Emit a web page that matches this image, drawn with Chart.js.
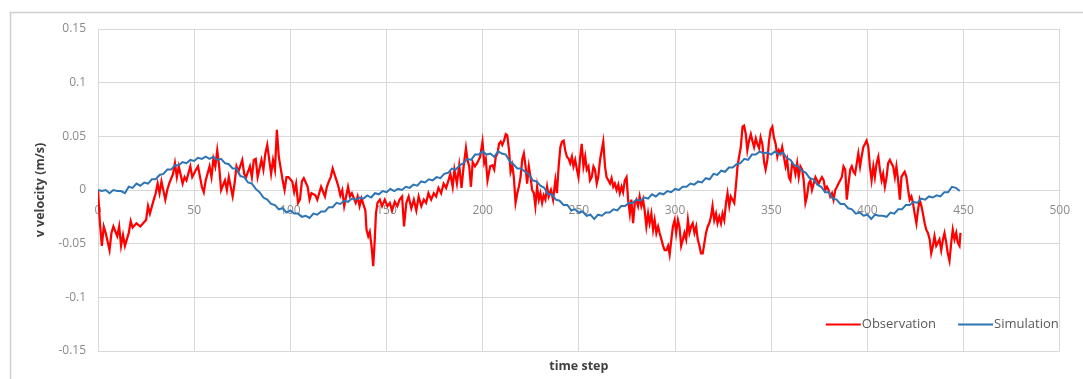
<!DOCTYPE html>
<html>
<head>
<meta charset="utf-8">
<title>v velocity – observation vs simulation</title>
<script src="https://cdn.jsdelivr.net/npm/chart.js@4.4.1/dist/chart.umd.min.js"></script>
<style>
  html, body { margin: 0; padding: 0; background: #ffffff; }
  canvas { display: block; }
</style>
</head>
<body>
<canvas id="chart" width="1083" height="379"></canvas>
<script>
// ---- data -------------------------------------------------------------
const seriesNames = ['Observation', 'Simulation'];
const seriesColors = ['#ff0000', '#2e75b6'];

const xTickValues = [0, 50, 100, 150, 200, 250, 300, 350, 400, 450, 500];
const yTickValues = [-0.15, -0.1, -0.05, 0, 0.05, 0.1, 0.15];

const xAxisTitle = 'time step';
const yAxisTitle = 'v velocity (m/s)';

// measured v velocity: [time step, m/s]
const observation = [
  [0,0.000],[1,-0.031],[2,-0.052],[3,-0.034],[4,-0.040],[6,-0.056],[7,-0.040],[8,-0.034],[10,-0.043],[11,-0.034],
  [12,-0.052],[13,-0.042],[14,-0.052],[16,-0.040],[17,-0.029],[18,-0.035],[20,-0.031],[22,-0.034],[23,-0.032],[25,-0.028],
  [26,-0.015],[27,-0.022],[29,-0.009],[30,-0.003],[31,0.006],[32,-0.003],[33,0.008],[35,-0.009],[36,0.000],[37,0.006],
  [39,0.015],[40,0.025],[41,0.012],[42,0.022],[44,0.006],[45,0.012],[46,0.009],[48,0.022],[49,0.012],[51,0.019],
  [52,0.022],[54,0.003],[55,-0.002],[56,0.009],[58,0.022],[59,0.012],[60,0.029],[61,0.022],[62,0.037],[63,0.022],
  [64,0.000],[66,0.009],[67,0.000],[68,0.012],[70,-0.006],[71,0.006],[72,0.022],[73,0.017],[75,0.028],[76,0.015],
  [77,0.012],[79,0.022],[80,0.012],[81,0.028],[82,0.029],[83,0.012],[85,0.028],[86,0.019],[87,0.034],[88,0.042],
  [90,0.015],[91,0.028],[92,0.019],[93,0.056],[94,0.031],[96,0.009],[97,0.000],[98,0.012],[99,0.012],[101,0.008],
  [102,-0.002],[103,0.006],[104,-0.012],[105,-0.009],[106,0.008],[107,0.011],[109,0.003],[110,-0.009],[111,-0.003],[113,-0.005],
  [114,-0.009],[115,-0.003],[116,0.003],[118,-0.006],[119,0.003],[120,0.008],[121,0.012],[122,0.020],[124,0.009],[125,0.003],
  [126,-0.005],[127,0.000],[128,-0.015],[130,0.003],[131,-0.006],[132,-0.003],[134,-0.012],[135,-0.006],[136,-0.015],[137,-0.008],
  [139,-0.019],[139.6,-0.037],[140.5,-0.043],[141.3,-0.039],[142.2,-0.052],[143.1,-0.071],[143.9,-0.046],[144.5,-0.022],[145.3,-0.012],[146.5,-0.009],
  [147.7,-0.015],[149.1,-0.009],[150.5,-0.015],[151.7,-0.012],[152.9,-0.019],[154.3,-0.011],[155.6,-0.015],[156.8,-0.009],[158.1,-0.006],[159.1,-0.034],
  [160.3,-0.012],[161.5,-0.006],[162.9,-0.017],[164.2,-0.009],[165.5,-0.019],[166.7,-0.006],[168.1,-0.015],[169.4,-0.009],[170.6,-0.012],[171.8,-0.003],
  [173.2,-0.009],[174.6,-0.003],[175.8,-0.006],[177,0.002],[178.4,-0.003],[179.7,0.006],[181,0.002],[182.2,0.009],[183.2,0.015],[184.4,0.003],
  [185.3,0.019],[186.6,0.006],[187.8,0.023],[189,0.002],[190.1,0.022],[191.3,0.039],[192.1,0.028],[193,0.022],[193.9,0.003],[194.8,0.026],
  [196,0.022],[197.1,0.025],[198.7,0.031],[199.9,0.045],[200.8,0.025],[201.6,0.029],[202.5,0.009],[203.9,0.022],[205.1,0.023],[206,0.019],
  [206.8,0.031],[207.7,0.034],[208.5,0.043],[209.4,0.045],[210.2,0.042],[211.1,0.046],[212,0.052],[212.8,0.051],[213.7,0.037],[214.5,0.017],
  [215.4,0.023],[216.2,0.012],[217.1,-0.012],[218,-0.003],[218.8,0.003],[219.7,0.012],[220.6,0.029],[221.4,0.034],[222.3,0.022],[223.1,0.006],
  [224,0.022],[224.9,0.012],[225.7,0.000],[226.6,-0.003],[227.4,-0.015],[228.3,0.003],[229.2,-0.009],[230,-0.003],[230.9,-0.012],[231.7,-0.005],
  [232.6,-0.009],[233.5,0.003],[234.3,-0.006],[235.5,0.000],[236.6,-0.009],[237.8,0.009],[238.6,-0.003],[239.5,0.022],[240.4,0.040],[241.2,0.045],
  [242.1,0.046],[242.9,0.037],[243.8,0.031],[244.7,0.029],[245.5,0.025],[246.4,0.031],[247.2,0.022],[248.1,0.028],[249,0.019],[249.8,0.012],
  [250.7,0.031],[251.5,0.043],[252.4,0.022],[253.3,0.031],[254.1,0.019],[255,0.022],[255.8,0.009],[256.7,0.012],[257.6,0.022],[258.4,0.019],
  [259.3,0.006],[260.1,0.012],[261,0.028],[261.9,0.037],[262.7,0.045],[263.6,0.022],[264.4,0.012],[265.3,0.009],[266.2,0.006],[267,0.011],
  [267.9,0.003],[268.7,0.006],[269.6,0.000],[270.5,0.005],[271.3,-0.003],[272.2,0.003],[273,-0.002],[273.9,0.009],[274.8,0.012],[275.6,-0.009],
  [276.5,-0.022],[277.3,-0.009],[278.2,-0.031],[279.1,-0.012],[279.9,-0.009],[280.8,-0.015],[281.6,-0.006],[282.5,-0.015],[283.4,-0.009],[284.2,-0.019],
  [285.1,-0.034],[286,-0.022],[286.8,-0.031],[287.7,-0.022],[288.6,-0.037],[289.4,-0.028],[290.3,-0.040],[291.2,-0.034],[292,-0.040],[292.9,-0.046],
  [293.8,-0.052],[294.6,-0.056],[295.5,-0.056],[296.4,-0.052],[297.2,-0.060],[298.1,-0.046],[298.9,-0.034],[299.8,-0.028],[300.6,-0.040],[301.5,-0.028],
  [302.3,-0.034],[303.2,-0.052],[304.1,-0.046],[304.9,-0.040],[305.8,-0.046],[306.7,-0.028],[307.5,-0.040],[308.4,-0.034],[309.2,-0.031],[310.1,-0.040],
  [311,-0.034],[311.8,-0.046],[312.7,-0.052],[313.5,-0.059],[314.4,-0.059],[315.3,-0.049],[316.1,-0.040],[317,-0.034],[317.8,-0.031],[318.7,-0.025],
  [319.5,-0.015],[320.4,-0.028],[321.3,-0.022],[322.1,-0.031],[323,-0.025],[323.9,-0.031],[324.7,-0.022],[325.6,-0.028],[326.5,-0.012],[327.3,-0.003],
  [328.2,-0.015],[329,-0.006],[329.9,-0.009],[330.8,-0.012],[331.6,0.003],[332.5,0.022],[333.3,0.031],[334.2,0.040],[335.1,0.059],[335.9,0.060],
  [336.8,0.052],[337.6,0.037],[338.5,0.046],[339.4,0.052],[340.2,0.046],[341.1,0.040],[342,0.048],[342.8,0.043],[343.7,0.039],[344.5,0.049],
  [345.4,0.043],[346.3,0.026],[347.1,0.019],[348,0.028],[348.9,0.046],[349.7,0.056],[350.6,0.059],[351.4,0.049],[352.3,0.043],[353.2,0.031],
  [354,0.037],[354.9,0.034],[355.7,0.040],[356.6,0.031],[357.5,0.022],[358.3,0.028],[359.2,0.012],[360,0.009],[360.9,0.025],[361.8,0.022],
  [362.6,0.015],[363.5,0.025],[364.3,0.012],[365.2,0.022],[366.1,0.019],[366.9,0.009],[367.8,-0.012],[368.6,-0.006],[369.5,0.006],[370.4,0.009],
  [371.2,0.000],[372.1,0.006],[373,0.012],[373.8,0.009],[374.7,0.006],[375.5,0.009],[376.4,0.012],[377.3,0.009],[378.1,0.000],[379,0.003],
  [379.8,0.000],[380.7,-0.006],[381.6,-0.003],[382.4,-0.009],[383.3,0.000],[384.2,0.003],[385,0.006],[385.9,0.009],[386.7,0.012],[387.6,0.022],
  [388.5,0.019],[389.3,-0.009],[390.2,0.006],[391.1,0.019],[391.9,0.022],[392.8,0.017],[393.6,0.015],[394.5,0.025],[395.3,0.034],[396.2,0.022],
  [397,0.031],[397.9,0.040],[398.8,0.043],[399.6,0.046],[400.5,0.040],[401.3,0.022],[402.2,0.009],[403.1,0.022],[403.9,0.012],[404.8,0.025],
  [405.7,0.031],[406.5,0.019],[407.4,0.009],[408.2,0.015],[409.1,0.003],[410,0.012],[410.8,0.025],[411.7,0.028],[412.5,0.025],[413.4,0.022],
  [414.3,0.012],[415.1,0.022],[416,0.009],[416.9,-0.009],[417.7,0.012],[418.6,0.015],[419.4,0.017],[420.3,0.012],[421.2,0.000],[422,-0.009],
  [422.9,-0.006],[423.7,-0.012],[424.6,-0.022],[425.5,-0.031],[426.3,-0.019],[427.2,-0.009],[428.1,-0.015],[428.9,-0.022],[429.8,-0.031],[430.6,-0.037],
  [431.5,-0.040],[432.4,-0.046],[433.2,-0.059],[434.1,-0.052],[434.9,-0.043],[435.8,-0.052],[436.7,-0.049],[437.5,-0.046],[438.4,-0.056],[439.3,-0.046],
  [440.1,-0.040],[441,-0.049],[441.8,-0.059],[442.7,-0.066],[443.6,-0.049],[444.4,-0.037],[445.3,-0.046],[446.2,-0.040],[447,-0.049],[447.9,-0.052],
  [448.4,-0.040]
];

// simulated v velocity, one value every SIM_STEP time steps starting at 0
const SIM_STEP = 2;
const simulation = [
  0.000,-0.001,0.000,-0.003,0.000,-0.001,-0.001,-0.003,0.003,0.002,
  0.006,0.004,0.007,0.006,0.010,0.010,0.014,0.015,0.019,0.019,
  0.023,0.023,0.026,0.025,0.028,0.027,0.030,0.029,0.031,0.029,
  0.031,0.028,0.029,0.025,0.024,0.020,0.020,0.013,0.012,0.007,
  0.006,0.001,-0.002,-0.007,-0.009,-0.013,-0.014,-0.018,-0.017,-0.021,
  -0.019,-0.022,-0.022,-0.025,-0.024,-0.026,-0.022,-0.023,-0.020,-0.020,
  -0.016,-0.016,-0.012,-0.013,-0.010,-0.011,-0.008,-0.009,-0.007,-0.008,
  -0.005,-0.007,-0.003,-0.004,-0.001,-0.002,0.001,-0.001,0.001,0.000,
  0.003,0.002,0.005,0.004,0.008,0.007,0.010,0.009,0.012,0.011,
  0.015,0.016,0.020,0.019,0.023,0.025,0.029,0.028,0.033,0.033,
  0.036,0.033,0.034,0.031,0.036,0.034,0.033,0.027,0.024,0.020,
  0.020,0.017,0.015,0.009,0.008,0.004,0.002,-0.004,-0.004,-0.009,
  -0.010,-0.014,-0.014,-0.019,-0.018,-0.021,-0.020,-0.024,-0.023,-0.027,
  -0.023,-0.024,-0.021,-0.021,-0.018,-0.019,-0.015,-0.015,-0.012,-0.012,
  -0.009,-0.010,-0.007,-0.008,-0.004,-0.006,-0.003,-0.004,-0.001,-0.002,
  0.001,0.000,0.003,0.003,0.006,0.005,0.008,0.007,0.011,0.010,
  0.015,0.014,0.018,0.017,0.021,0.021,0.024,0.025,0.029,0.028,
  0.033,0.033,0.036,0.034,0.035,0.033,0.036,0.033,0.035,0.030,
  0.028,0.023,0.022,0.018,0.016,0.011,0.010,0.005,0.003,-0.002,
  -0.002,-0.008,-0.009,-0.013,-0.013,-0.017,-0.018,-0.022,-0.021,-0.024,
  -0.023,-0.027,-0.023,-0.024,-0.024,-0.025,-0.021,-0.022,-0.018,-0.018,
  -0.014,-0.014,-0.011,-0.012,-0.008,-0.009,-0.006,-0.007,-0.005,-0.006,
  -0.002,-0.002,0.003,0.002,-0.001
];

// ---- styling ----------------------------------------------------------
const FONT = '"Open Sans", "Liberation Sans", sans-serif';
const GRID = '#d9d9d9';
const TICK_COLOR = '#8a8a8a';
const TITLE_COLOR = '#404040';
const LEGEND_COLOR = '#595959';

// white page with a thin frame round the chart
const framePlugin = {
  id: 'frame',
  beforeDraw(chart) {
    const { ctx, width, height } = chart;
    ctx.save();
    ctx.fillStyle = '#ffffff';
    ctx.fillRect(0, 0, width, height);
    ctx.strokeStyle = '#cfcfcf';
    ctx.lineWidth = 1.5;
    ctx.beginPath();
    ctx.moveTo(10.5, height);
    ctx.lineTo(10.5, 12.5);
    ctx.lineTo(width, 12.5);
    ctx.stroke();
    ctx.restore();
  }
};

// legend drawn inside the plot, bottom right
const insideLegend = {
  id: 'insideLegend',
  afterDraw(chart) {
    const { ctx, chartArea } = chart;
    const lineLen = 35, gap = 1, spacing = 22;
    ctx.save();
    ctx.font = '13px ' + FONT;
    ctx.textBaseline = 'middle';
    const items = chart.data.datasets.map(ds => ({
      label: ds.label, color: ds.borderColor, w: ctx.measureText(ds.label).width
    }));
    const total = items.reduce((s, it) => s + lineLen + gap + it.w, 0) + spacing * (items.length - 1);
    let x = chartArea.right - 1 - total;
    const y = 324.5;
    items.forEach(it => {
      ctx.strokeStyle = it.color;
      ctx.lineWidth = 2;
      ctx.beginPath();
      ctx.moveTo(x, y);
      ctx.lineTo(x + lineLen, y);
      ctx.stroke();
      ctx.fillStyle = LEGEND_COLOR;
      ctx.textAlign = 'left';
      ctx.fillText(it.label, x + lineLen + gap, y);
      x += lineLen + gap + it.w + spacing;
    });
    ctx.restore();
  }
};

const ctx = document.getElementById('chart').getContext('2d');
new Chart(ctx, {
  type: 'line',
  data: {
    datasets: [
      {
        label: seriesNames[0],
        data: observation.map(([t, v]) => ({ x: t, y: v })),
        borderColor: seriesColors[0],
        borderWidth: 2.25,
        pointRadius: 0,
        tension: 0,
        order: 2
      },
      {
        label: seriesNames[1],
        data: simulation.map((v, i) => ({ x: i * SIM_STEP, y: v })),
        borderColor: seriesColors[1],
        borderWidth: 2,
        pointRadius: 0,
        tension: 0,
        order: 1
      }
    ]
  },
  options: {
    responsive: false,
    animation: false,
    devicePixelRatio: 1,
    layout: { padding: { left: 0, top: 29, right: 17, bottom: 0 } },
    plugins: { legend: { display: false }, tooltip: { enabled: false } },
    scales: {
      x: {
        type: 'linear',
        position: { y: 0 },
        min: 0,
        max: 500,
        afterBuildTicks: s => { s.ticks = xTickValues.map(v => ({ value: v })); },
        grid: { color: GRID, lineWidth: 1, drawTicks: false },
        border: { color: GRID },
        ticks: {
          padding: 13, color: TICK_COLOR, autoSkip: false, maxRotation: 0,
          font: { family: FONT, size: 12 },
          callback: v => String(v)
        }
      },
      xTitle: {
        type: 'linear',
        axis: 'x',
        position: 'bottom',
        min: 0,
        max: 500,
        grid: { display: false },
        border: { display: false },
        ticks: { display: false },
        title: {
          display: true, text: xAxisTitle, color: TITLE_COLOR,
          font: { family: FONT, size: 12.5, weight: 'bold' },
          padding: { top: 0, bottom: 5.5 }
        },
        afterFit: s => { s.height = 28; }
      },
      y: {
        type: 'linear',
        position: 'left',
        min: -0.15,
        max: 0.15,
        afterBuildTicks: s => { s.ticks = yTickValues.map(v => ({ value: v })); },
        grid: { color: GRID, lineWidth: 1, drawTicks: false },
        border: { color: GRID },
        ticks: {
          padding: 12, color: TICK_COLOR,
          font: { family: FONT, size: 12 },
          callback: v => String(v)
        },
        title: {
          display: true, text: yAxisTitle, color: TITLE_COLOR,
          font: { family: FONT, size: 12.5, weight: 'bold' },
          padding: { top: 32.5, bottom: 0 }
        },
        afterFit: s => { s.width = 98; }
      }
    }
  },
  plugins: [framePlugin, insideLegend]
});
</script>
</body>
</html>
